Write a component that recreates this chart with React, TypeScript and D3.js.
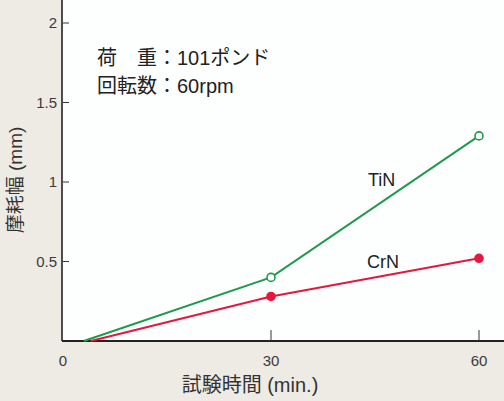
import * as d3 from "d3";
import React from "react";

const times = [0, 30, 60];
const tin = [
  { t: 3, v: 0 },
  { t: 30, v: 0.4 },
  { t: 60, v: 1.29 },
];
const crn = [
  { t: 4, v: 0 },
  { t: 30, v: 0.28 },
  { t: 60, v: 0.52 },
];
const yTicks = [0.5, 1, 1.5, 2];
const xTickLabels = ["0", "30", "60"];

const W = 504;
const H = 401;
const latin = "'Liberation Sans', Arial, 'Noto Sans CJK JP', sans-serif";
const GREEN = "#1f9a4c";
const RED = "#e5173e";

export default function App() {
  const x = d3.scaleLinear().domain([0, 60]).range([63, 479]);
  const y = d3.scaleLinear().domain([0, 2]).range([341, 23]);

  const line = d3
    .line<{ t: number; v: number }>()
    .x((d) => x(d.t))
    .y((d) => y(d.v));

  return (
    <svg
      width={W}
      height={H}
      style={{ position: "absolute", left: 0, top: 0 }}
      fontFamily={latin}
    >
      <rect width={W} height={H} fill="#eeebe4" />
      <rect x={x(0) - 1} y={0} width={W - x(0) + 1} height={y(0)} fill="#fdfefe" />

      {/* axes */}
      <line x1={x(0) - 1} x2={x(0) - 1} y1={0} y2={y(0)} stroke="#222" strokeWidth={1.6} />
      <line x1={x(0) - 1} x2={W} y1={y(0)} y2={y(0)} stroke="#222" strokeWidth={1.8} />

      {yTicks.map((t) => (
        <g key={`y-${t}`}>
          <line x1={x(0)} x2={x(0) + 6} y1={y(t)} y2={y(t)} stroke="#333" strokeWidth={1} />
          <text
            x={x(0) - 6}
            y={y(t)}
            dy="0.36em"
            textAnchor="end"
            fontSize={15}
            fill="#3a3a3a"
          >
            {t}
          </text>
        </g>
      ))}

      {times.map((t, i) => (
        <g key={`x-${t}`}>
          {t > 0 && (
            <line x1={x(t)} x2={x(t)} y1={y(0)} y2={y(0) - 11} stroke="#333" strokeWidth={1} />
          )}
          <text x={x(t)} y={366} textAnchor="middle" fontSize={15} fill="#3a3a3a">
            {xTickLabels[i]}
          </text>
        </g>
      ))}

      {/* series */}
      <path d={line(crn) || ""} fill="none" stroke={RED} strokeWidth={2} />
      <path d={line(tin) || ""} fill="none" stroke={GREEN} strokeWidth={2} />
      {crn.slice(1).map((d) => (
        <circle key={`c-${d.t}`} cx={x(d.t)} cy={y(d.v)} r={4.8} fill={RED} />
      ))}
      {tin.slice(1).map((d) => (
        <circle
          key={`t-${d.t}`}
          cx={x(d.t)}
          cy={y(d.v)}
          r={4}
          fill="#fff"
          stroke={GREEN}
          strokeWidth={1.6}
        />
      ))}

      <text x={368} y={186} fontSize={18} fill="#222">TiN</text>
      <text x={367} y={268} fontSize={18} fill="#222">CrN</text>

      {/* conditions */}
      <text x={97} y={65} fontSize={20} fill="#222">荷　重：101ポンド</text>
      <text x={97} y={93} fontSize={20} fill="#222">回転数：60rpm</text>

      {/* axis titles */}
      <text x={250} y={392} textAnchor="middle" fontSize={20} fill="#333">
        試験時間 (min.)
      </text>
      <text
        transform={`translate(22, 180) rotate(-90)`}
        textAnchor="middle"
        fontSize={19}
        fill="#333"
      >
        摩耗幅 (mm)
      </text>
    </svg>
  );
}
